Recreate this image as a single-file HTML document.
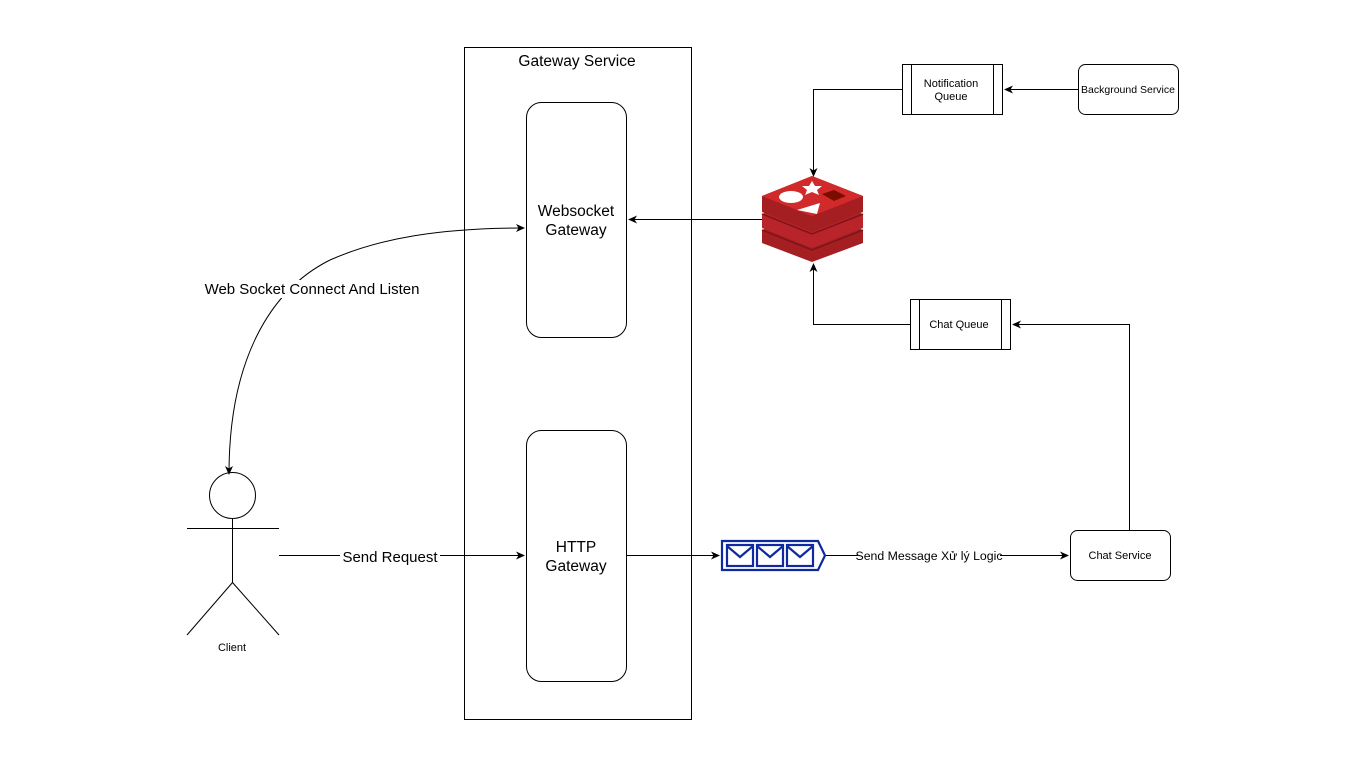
<!DOCTYPE html>
<html><head><meta charset="utf-8"><style>
html,body{margin:0;padding:0;background:#fff;}
svg{display:block;font-family:"Liberation Sans",Helvetica,Arial,sans-serif;}
</style></head><body>
<svg width="1366" height="768" viewBox="0 0 1366 768" xmlns="http://www.w3.org/2000/svg">
<defs>
<marker id="a" markerWidth="10" markerHeight="10" refX="8" refY="5" orient="auto" markerUnits="userSpaceOnUse">
<path d="M0,1 L9,5 L0,9 L2.5,5 Z" fill="#000"/>
</marker>
</defs>
<rect width="1366" height="768" fill="#fff"/>
<g fill="none" stroke="#000" stroke-width="1">
<rect x="464.5" y="47.5" width="227" height="672"/>
<rect x="526.5" y="102.5" width="100" height="235" rx="15"/>
<rect x="526.5" y="430.5" width="100" height="251" rx="15"/>
<rect x="902.5" y="64.5" width="100" height="50"/>
<line x1="911.5" y1="64.5" x2="911.5" y2="114.5"/>
<line x1="993.5" y1="64.5" x2="993.5" y2="114.5"/>
<rect x="1078.5" y="64.5" width="100" height="50" rx="7"/>
<rect x="910.5" y="299.5" width="100" height="50"/>
<line x1="919.5" y1="299.5" x2="919.5" y2="349.5"/>
<line x1="1001.5" y1="299.5" x2="1001.5" y2="349.5"/>
<rect x="1070.5" y="530.5" width="100" height="50" rx="7"/>
<!-- actor -->
<circle cx="232.5" cy="495.5" r="23"/>
<line x1="232.5" y1="518.5" x2="232.5" y2="582.5"/>
<line x1="187" y1="528.5" x2="279" y2="528.5"/>
<line x1="232.5" y1="582.5" x2="187" y2="635"/>
<line x1="232.5" y1="582.5" x2="279" y2="635"/>
<!-- connectors -->
<path d="M902,89.5 H813.5 V176" marker-end="url(#a)"/>
<path d="M1078,89.5 H1005" marker-end="url(#a)"/>
<path d="M762,219.5 H629" marker-end="url(#a)"/>
<path d="M910,324.5 H813.5 V264" marker-end="url(#a)"/>
<path d="M1129.5,530 V324.5 H1013" marker-end="url(#a)"/>
<path d="M627,555.5 H719" marker-end="url(#a)"/>
<path d="M825,555.5 H1068" marker-end="url(#a)"/>
<path d="M279,555.5 H524" marker-end="url(#a)"/>
<path d="M330,260 C380,238 440,228 524,228" marker-end="url(#a)"/>
<path d="M330,260 C270,290 229,360 229,474" marker-end="url(#a)"/>
</g>
<!-- redis icon -->
<g>
<path d="M762,230 L812,210 L863,230 L863,243 L812,262 L762,243 Z" fill="#a41e22"/>
<path d="M762,230 L812,250 L863,230" fill="none" stroke="#7e1418" stroke-width="1.5"/>
<path d="M762,214 L812,194 L863,214 L863,228 L812,248 L762,228 Z" fill="#b8242a"/>
<path d="M762,214 L812,234 L863,214" fill="none" stroke="#7e1418" stroke-width="1.5"/>
<path d="M762,196 L812,176 L863,196 L863,212 L812,232 L762,212 Z" fill="#a41e22"/>
<path d="M762,196 L812,216 L863,196 L812,176 Z" fill="#d22a2a"/>
<ellipse cx="791" cy="197" rx="12" ry="6" fill="#fff"/>
<path d="M812,181 L815,186 L822,186 L817,190 L819,195 L812,192 L805,195 L807,190 L802,186 L809,186 Z" fill="#fff"/>
<path d="M797,210 L820,203 L817,214 Z" fill="#fff"/>
<path d="M822,194 L834,190 L846,196 L834,201 Z" fill="#7a0c00"/>
</g>
<!-- queue icon -->
<g fill="none" stroke="#0f2aa0" stroke-width="2.2">
<path d="M722,541 H818 L825,555.5 L818,570 H722 Z" fill="#fff"/>
<rect x="727" y="545" width="26" height="21"/>
<rect x="757" y="545" width="26" height="21"/>
<rect x="787" y="545" width="26" height="21"/>
<path d="M727,546 L740,557 L753,546 M757,546 L770,557 L783,546 M787,546 L800,557 L813,546"/>
</g>
<!-- labels -->
<g fill="#000" text-anchor="middle">
<text x="577" y="66" font-size="15.5">Gateway Service</text>
<text x="576" y="216" font-size="15.5">Websocket</text>
<text x="576" y="235" font-size="15.5">Gateway</text>
<text x="576" y="552" font-size="15.5">HTTP</text>
<text x="576" y="571" font-size="15.5">Gateway</text>
<text x="951" y="87" font-size="11">Notification</text>
<text x="951" y="100" font-size="11">Queue</text>
<text x="1128" y="93" font-size="10.5">Background Service</text>
<text x="959" y="328" font-size="11">Chat Queue</text>
<text x="1120" y="559" font-size="11">Chat Service</text>
<text x="232" y="651" font-size="11">Client</text>
<rect x="340" y="547" width="100" height="18" fill="#fff"/>
<text x="390" y="562" font-size="15">Send Request</text>
<rect x="858" y="548" width="142" height="16" fill="#fff"/>
<text x="929" y="560" font-size="12.3">Send Message Xử lý Logic</text>
<rect x="204" y="280" width="218" height="18" fill="#fff"/>
<text x="312" y="294" font-size="15">Web Socket Connect And Listen</text>
</g>
</svg>
</body></html>
